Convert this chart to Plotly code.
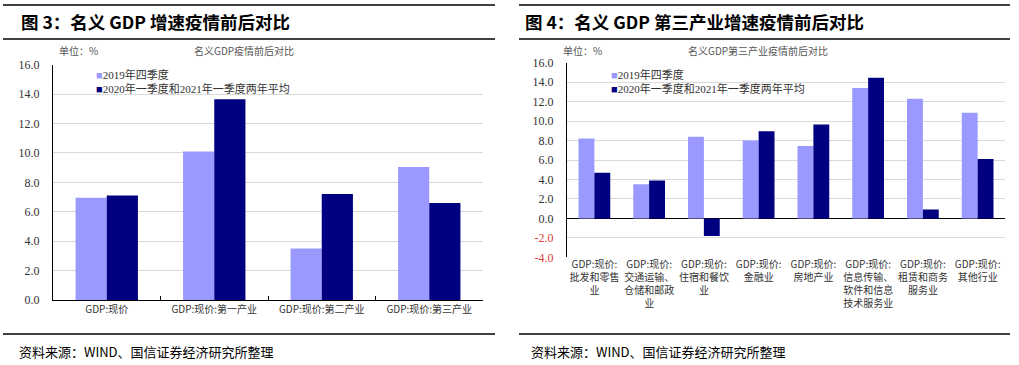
import plotly.graph_objects as go

W, H = 1019, 365

series_names = ["2019年四季度", "2020年一季度和2021年一季度两年平均"]
colors = ["#9999FF", "#000080"]

# Chart 3
cats3 = ["GDP:现价", "GDP:现价:第一产业", "GDP:现价:第二产业", "GDP:现价:第三产业"]
q4_2019_3 = [6.95, 10.1, 3.5, 9.05]
avg_3 = [7.1, 13.65, 7.2, 6.6]

# Chart 4
cats4 = [
    "GDP:现价:<br>批发和零售<br>业",
    "GDP:现价:<br>交通运输、<br>仓储和邮政<br>业",
    "GDP:现价:<br>住宿和餐饮<br>业",
    "GDP:现价:<br>金融业",
    "GDP:现价:<br>房地产业",
    "GDP:现价:<br>信息传输、<br>软件和信息<br>技术服务业",
    "GDP:现价:<br>租赁和商务<br>服务业",
    "GDP:现价:<br>其他行业",
]
q4_2019_4 = [8.2, 3.5, 8.4, 8.0, 7.45, 13.4, 12.3, 10.85]
avg_4 = [4.7, 3.9, -1.8, 8.95, 9.65, 14.45, 0.9, 6.1]

yticks3 = [0, 2, 4, 6, 8, 10, 12, 14, 16]
yticks4 = [-4, -2, 0, 2, 4, 6, 8, 10, 12, 14, 16]

def px_x(p):
    return p / W

def px_y(p):
    return 1 - p / H

NUM_FONT = "Liberation Serif, Noto Sans CJK SC"
CJK = "Noto Sans CJK SC"

def tick_text(vals):
    out = []
    for v in vals:
        s = f"{v:.1f}"
        if v < 0:
            s = f"<span style='color:#e0403a'>{s}</span>"
        out.append(s)
    return out

fig = go.Figure()

for name, vals, c in zip(series_names, [q4_2019_3, avg_3], colors):
    fig.add_trace(go.Bar(x=cats3, y=vals, name=name, marker=dict(color=c, line=dict(width=0)),
                         xaxis="x", yaxis="y", showlegend=False))
for name, vals, c in zip(series_names, [q4_2019_4, avg_4], colors):
    fig.add_trace(go.Bar(x=cats4, y=vals, name=name, marker=dict(color=c, line=dict(width=0)),
                         xaxis="x2", yaxis="y2", showlegend=False))

axis_common = dict(showgrid=False, linecolor="#000000", linewidth=1, showline=True, automargin=False,
                   tickfont=dict(family=CJK, size=10, color="#333333"),
                   ticks="inside", tickson="boundaries", ticklen=4, tickcolor="#000000")
yaxis_common = dict(showgrid=True, gridcolor="#d9d9d9", gridwidth=1, showline=True, automargin=False,
                    linecolor="#000000", linewidth=1, zeroline=False,
                    tickfont=dict(family=NUM_FONT, size=12, color="#333333"), ticks="",
                    ticklabelstandoff=10)

fig.update_layout(
    width=W, height=H,
    margin=dict(l=0, r=0, t=0, b=0, autoexpand=False),
    paper_bgcolor="white", plot_bgcolor="white",
    barmode="group", bargap=0.42, bargroupgap=0,
    showlegend=False,
    xaxis=dict(domain=[px_x(53), px_x(483)], anchor="y", **axis_common),
    yaxis=dict(domain=[px_y(300), px_y(64.7)], anchor="x", range=[0, 16],
               tickvals=yticks3, ticktext=tick_text(yticks3), **yaxis_common),
    xaxis2=dict(domain=[px_x(567), px_x(1005)], anchor="y2", **{**axis_common, "showline": False, "ticks": ""}),
    yaxis2=dict(domain=[px_y(257.3), px_y(62.7)], anchor="x2", range=[-4, 16],
                tickvals=yticks4, ticktext=tick_text(yticks4), **{**yaxis_common, "zeroline": True,
                "zerolinecolor": "#000000", "zerolinewidth": 1}),
    font=dict(family=CJK),
)

shapes = []
for x0, x1 in [(3, 495), (519, 1010)]:
    for yy in [5, 39, 334]:
        shapes.append(dict(type="line", xref="paper", yref="paper",
                           x0=px_x(x0), x1=px_x(x1), y0=px_y(yy), y1=px_y(yy),
                           line=dict(color="#000000", width=1.5)))
fig.update_layout(shapes=shapes)

annots = [
    dict(text="<b>图 3：名义 GDP 增速疫情前后对比</b>", x=px_x(19), y=px_y(22),
         font=dict(family=CJK, size=17.5, color="#000000")),
    dict(text="<b>图 4：名义 GDP 第三产业增速疫情前后对比</b>", x=px_x(523), y=px_y(22),
         font=dict(family=CJK, size=17.5, color="#000000")),
    dict(text="单位：%", x=px_x(57), y=px_y(51), font=dict(family=CJK, size=10, color="#555555")),
    dict(text="单位：%", x=px_x(561), y=px_y(51), font=dict(family=CJK, size=10, color="#555555")),
    dict(text="资料来源：WIND、国信证券经济研究所整理", x=px_x(17), y=px_y(351),
         font=dict(family=CJK, size=13, color="#000000")),
    dict(text="资料来源：WIND、国信证券经济研究所整理", x=px_x(529), y=px_y(351),
         font=dict(family=CJK, size=13, color="#000000")),
]
# legend entries drawn as text rows
for lx in (94, 609):
    for i, (name, c) in enumerate(zip(series_names, colors)):
        annots.append(dict(text=f"<span style='color:{c}'>■</span>{name}",
                           x=px_x(lx), y=px_y(75 + 13 * i),
                           font=dict(family=NUM_FONT, size=11, color="#333333")))
for a in annots:
    a.update(xref="paper", yref="paper", xanchor="left", yanchor="middle", showarrow=False)
centered = [
    dict(text="名义GDP疫情前后对比", x=px_x(244), y=px_y(51)),
    dict(text="名义GDP第三产业疫情前后对比", x=px_x(758), y=px_y(51)),
]
for a in centered:
    a.update(xref="paper", yref="paper", xanchor="center", yanchor="middle", showarrow=False,
             font=dict(family=CJK, size=10, color="#555555"))
fig.update_layout(annotations=annots + centered)

fig.write_html("out.html", config={"displayModeBar": False},
               post_script="document.body.style.margin='0';document.body.style.overflow='hidden';")
